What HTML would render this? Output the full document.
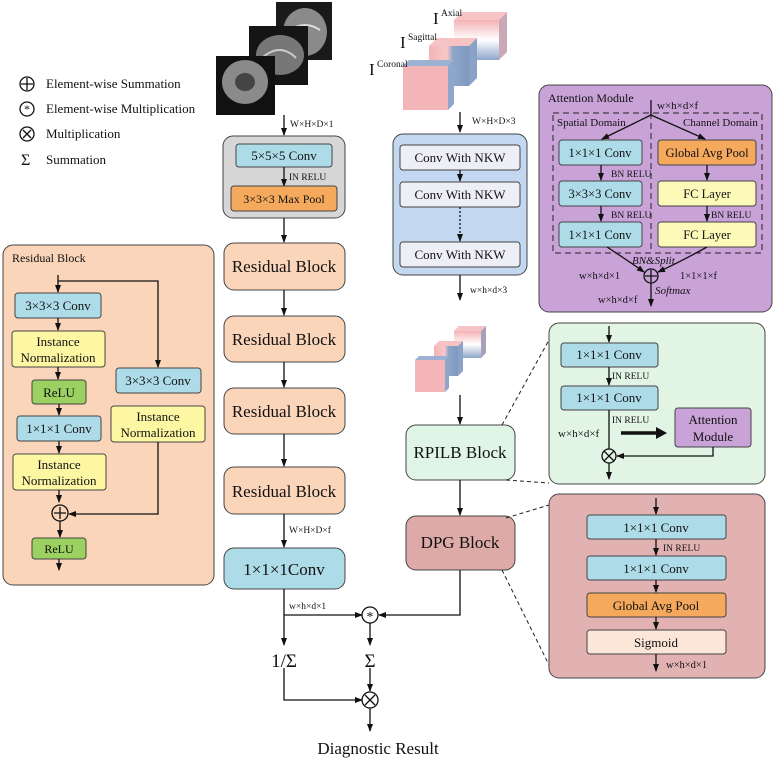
<!DOCTYPE html>
<html><head><meta charset="utf-8"><style>
body{margin:0;background:#fff}
svg{display:block;font-family:"Liberation Serif",serif}
</style></head><body>
<svg width="777" height="760" viewBox="0 0 777 760" xmlns="http://www.w3.org/2000/svg">
<defs>
<marker id="a" markerWidth="8" markerHeight="8" refX="7" refY="4" orient="auto" markerUnits="userSpaceOnUse"><path d="M0,1 L8,4 L0,7 z" fill="#111"/></marker>
<linearGradient id="pb" x1="0" x2="1"><stop offset="0" stop-color="#f4b3b6"/><stop offset="0.45" stop-color="#f7c7c9"/><stop offset="0.6" stop-color="#8da6c9"/><stop offset="1" stop-color="#7f98bf"/></linearGradient>
<linearGradient id="pv" x1="0" y1="0" x2="0" y2="1"><stop offset="0" stop-color="#f4b3b6"/><stop offset="0.5" stop-color="#fff"/><stop offset="1" stop-color="#8da6c9"/></linearGradient>
</defs>
<style>
text{font-family:"Liberation Serif",serif;fill:#111}
.s{font-size:9.5px}
.m{font-size:13px}
.l{font-size:17px}
.ln{stroke:#111;stroke-width:1.3;fill:none}
.bx{stroke:#444;stroke-width:1}
</style>

<!-- legend -->
<g class="ln"><circle cx="27" cy="84" r="7"/><path d="M21,84h12M27,78v12"/>
<circle cx="27" cy="109" r="7"/><circle cx="27" cy="134" r="7"/><path d="M23,130l8,8M31,130l-8,8"/></g>
<text x="27" y="113" text-anchor="middle" style="font-size:12px">*</text>
<text x="21" y="165" style="font-size:16px">Σ</text>
<text x="46" y="88" class="m">Element-wise Summation</text>
<text x="46" y="113" class="m">Element-wise Multiplication</text>
<text x="46" y="138" class="m">Multiplication</text>
<text x="46" y="164" class="m">Summation</text>

<!-- MRI -->
<rect x="276" y="2" width="56" height="58" fill="#1a1a1a"/><ellipse cx="305" cy="32" rx="22" ry="24" fill="#8a8a8a"/><path d="M290,30q15,-10 30,0" stroke="#ddd" stroke-width="2" fill="none"/>
<rect x="249" y="26" width="59" height="59" fill="#151515"/><ellipse cx="280" cy="55" rx="24" ry="20" fill="#777"/><path d="M262,58q18,-16 34,0" stroke="#ccc" stroke-width="2" fill="none"/>
<rect x="216" y="56" width="59" height="59" fill="#111"/><ellipse cx="245" cy="82" rx="23" ry="22" fill="#8a8a8a"/><ellipse cx="245" cy="82" rx="10" ry="9" fill="#444"/>
<line x1="284" y1="115" x2="284" y2="135" class="ln" marker-end="url(#a)"/>
<text x="290" y="127" class="s">W×H×D×1</text>

<!-- gray stem box -->
<rect x="223" y="136" width="122" height="82" rx="10" fill="#d6d6d6" class="bx" stroke-width="1.3"/>
<rect x="236" y="144" width="96" height="23" rx="3" fill="#aedbe8" class="bx"/>
<text x="284" y="160" text-anchor="middle" class="m">5×5×5 Conv</text>
<line x1="284" y1="167" x2="284" y2="186" class="ln" marker-end="url(#a)"/>
<text x="289" y="180" class="s">IN RELU</text>
<rect x="231" y="186" width="106" height="25" rx="3" fill="#f5a95c" class="bx"/>
<text x="284" y="203" text-anchor="middle" style="font-size:12px">3×3×3 Max Pool</text>
<line x1="284" y1="218" x2="284" y2="242" class="ln" marker-end="url(#a)"/>

<!-- residual column -->
<g fill="#fad5b9" class="bx" stroke-width="1.3">
<rect x="224" y="243" width="121" height="47" rx="10"/>
<rect x="224" y="316" width="121" height="46" rx="10"/>
<rect x="224" y="388" width="121" height="46" rx="10"/>
<rect x="224" y="467" width="121" height="47" rx="10"/>
</g>
<g class="l" text-anchor="middle">
<text x="284" y="272">Residual Block</text>
<text x="284" y="345">Residual Block</text>
<text x="284" y="417">Residual Block</text>
<text x="284" y="497">Residual Block</text>
</g>
<g class="ln">
<line x1="284" y1="290" x2="284" y2="315" marker-end="url(#a)"/>
<line x1="284" y1="362" x2="284" y2="387" marker-end="url(#a)"/>
<line x1="284" y1="434" x2="284" y2="466" marker-end="url(#a)"/>
<line x1="284" y1="514" x2="284" y2="547" marker-end="url(#a)"/>
</g>
<text x="289" y="533" class="s">W×H×D×f</text>
<rect x="224" y="548" width="121" height="41" rx="10" fill="#aedbe8" class="bx" stroke-width="1.3"/>
<text x="284" y="575" text-anchor="middle" class="l">1×1×1Conv</text>
<text x="289" y="609" class="s">w×h×d×1</text>

<!-- bottom combination -->
<g class="ln">
<line x1="284" y1="589" x2="284" y2="645" marker-end="url(#a)"/>
<line x1="284" y1="615" x2="362" y2="615" marker-end="url(#a)"/>
<circle cx="370" cy="615" r="8"/>
<polyline points="460,570 460,615 379,615" marker-end="url(#a)"/>
<line x1="370" y1="623" x2="370" y2="645" marker-end="url(#a)"/>
<polyline points="284,668 284,700 362,700" marker-end="url(#a)"/>
<line x1="370" y1="668" x2="370" y2="691" marker-end="url(#a)"/>
<circle cx="370" cy="700" r="8"/><path d="M365,695l10,10M375,695l-10,10"/>
<line x1="370" y1="708" x2="370" y2="731" marker-end="url(#a)"/>
</g>
<text x="370" y="621" text-anchor="middle" style="font-size:14px">*</text>
<text x="284" y="667" text-anchor="middle" style="font-size:19px">1/Σ</text>
<text x="370" y="667" text-anchor="middle" style="font-size:19px">Σ</text>
<text x="378" y="754" text-anchor="middle" style="font-size:17px">Diagnostic Result</text>

<!-- input cubes -->
<g>
<rect x="454" y="20" width="45" height="40" fill="url(#pv)"/><path d="M454,20l8,-8h45l-8,8z" fill="#f7c4c6"/><path d="M499,20l8,-8v40l-8,8z" fill="#c9a9b8"/>
<rect x="429" y="46" width="40" height="40" fill="url(#pb)"/><path d="M429,46l8,-8h40l-8,8z" fill="#f6c2c4"/><path d="M469,46l8,-8v40l-8,8z" fill="#8aa2c6"/>
<rect x="403" y="66" width="45" height="44" fill="#f4b5b8"/><path d="M403,66l6,-6h45l-6,6z" fill="#9db2d3"/><path d="M448,66l6,-6v44l-6,6z" fill="#8da6c9"/>
</g>
<text x="433" y="24" class="l">I</text><text x="441" y="16" class="s">Axial</text>
<text x="400" y="48" class="l">I</text><text x="408" y="40" class="s">Sagittal</text>
<text x="369" y="75" class="l">I</text><text x="377" y="67" class="s">Coronal</text>
<line x1="460" y1="112" x2="460" y2="132" class="ln" marker-end="url(#a)"/>
<text x="472" y="124" class="s">W×H×D×3</text>

<!-- NKW box -->
<rect x="393" y="134" width="134" height="141" rx="10" fill="#c3d8f0" class="bx" stroke-width="1.3"/>
<g fill="#eeeef6" class="bx"><rect x="400" y="145" width="120" height="25" rx="3"/><rect x="400" y="182" width="120" height="25" rx="3"/><rect x="400" y="242" width="120" height="25" rx="3"/></g>
<g class="m" text-anchor="middle"><text x="460" y="162">Conv With NKW</text><text x="460" y="199">Conv With NKW</text><text x="460" y="259">Conv With NKW</text></g>
<line x1="460" y1="170" x2="460" y2="181" class="ln" marker-end="url(#a)"/>
<line x1="460" y1="207" x2="460" y2="241" class="ln" stroke-dasharray="2,2" marker-end="url(#a)"/>
<line x1="460" y1="275" x2="460" y2="300" class="ln" marker-end="url(#a)"/>
<text x="470" y="293" class="s">w×h×d×3</text>

<!-- mid cubes -->
<rect x="454" y="331" width="27" height="27" fill="url(#pv)"/><path d="M454,331l5,-5h27l-5,5z" fill="#f7c4c6"/><path d="M481,331l5,-5v27l-5,5z" fill="#a8a0bb"/>
<rect x="434" y="346" width="24" height="30" fill="url(#pb)"/><path d="M434,346l5,-5h24l-5,5z" fill="#f6c2c4"/><path d="M458,346l5,-5v30l-5,5z" fill="#8aa2c6"/>
<rect x="415" y="360" width="30" height="32" fill="#f4b5b8"/><path d="M415,360l4,-4h30l-4,4z" fill="#9db2d3"/><path d="M445,360l4,-4v32l-4,4z" fill="#8da6c9"/>
<line x1="460" y1="395" x2="460" y2="424" class="ln" marker-end="url(#a)"/>

<!-- RPILB / DPG -->
<rect x="406" y="425" width="109" height="55" rx="10" fill="#dff5e6" class="bx" stroke-width="1.3"/>
<text x="460" y="458" text-anchor="middle" class="l">RPILB Block</text>
<line x1="460" y1="480" x2="460" y2="515" class="ln" marker-end="url(#a)"/>
<rect x="406" y="516" width="109" height="54" rx="10" fill="#deaaa8" class="bx" stroke-width="1.3"/>
<text x="460" y="548" text-anchor="middle" class="l">DPG Block</text>
<g stroke="#222" stroke-dasharray="4,3" fill="none">
<line x1="502" y1="425" x2="549" y2="340"/><line x1="506" y1="480" x2="549" y2="483"/>
<line x1="506" y1="518" x2="549" y2="505"/><line x1="502" y1="570" x2="549" y2="665"/>
</g>

<!-- residual block panel -->
<rect x="3" y="245" width="211" height="340" rx="10" fill="#fad5b9" class="bx" stroke-width="1.3"/>
<text x="12" y="262" style="font-size:12px">Residual Block</text>
<g class="bx">
<rect x="15" y="293" width="86" height="25" rx="3" fill="#aedbe8"/>
<rect x="12" y="331" width="93" height="36" rx="3" fill="#fdf7a3"/>
<rect x="32" y="380" width="54" height="24" rx="3" fill="#9ad160"/>
<rect x="17" y="416" width="84" height="25" rx="3" fill="#aedbe8"/>
<rect x="13" y="454" width="93" height="36" rx="3" fill="#fdf7a3"/>
<rect x="32" y="538" width="54" height="21" rx="3" fill="#9ad160"/>
<rect x="116" y="368" width="85" height="25" rx="3" fill="#aedbe8"/>
<rect x="111" y="406" width="94" height="36" rx="3" fill="#fdf7a3"/>
</g>
<g class="m" text-anchor="middle">
<text x="58" y="310">3×3×3 Conv</text>
<text x="58" y="346">Instance</text><text x="58" y="362">Normalization</text>
<text x="59" y="397">ReLU</text>
<text x="59" y="433">1×1×1 Conv</text>
<text x="59" y="469">Instance</text><text x="59" y="485">Normalization</text>
<text x="59" y="553" style="font-size:12px">ReLU</text>
<text x="158" y="385">3×3×3 Conv</text>
<text x="158" y="421">Instance</text><text x="158" y="437">Normalization</text>
</g>
<g class="ln">
<line x1="58" y1="275" x2="58" y2="292" marker-end="url(#a)"/>
<polyline points="58,281 158,281 158,367" marker-end="url(#a)"/>
<line x1="58" y1="318" x2="58" y2="330" marker-end="url(#a)"/>
<line x1="58" y1="367" x2="58" y2="379" marker-end="url(#a)"/>
<line x1="59" y1="404" x2="59" y2="415" marker-end="url(#a)"/>
<line x1="59" y1="441" x2="59" y2="453" marker-end="url(#a)"/>
<line x1="59" y1="490" x2="59" y2="502" marker-end="url(#a)"/>
<circle cx="60" cy="513" r="8"/><path d="M54,513h12M60,507v12"/>
<polyline points="158,442 158,514 69,514" marker-end="url(#a)"/>
<line x1="60" y1="521" x2="60" y2="537" marker-end="url(#a)"/>
<line x1="59" y1="559" x2="59" y2="570" marker-end="url(#a)"/>
</g>

<!-- attention module -->
<rect x="539" y="85" width="233" height="227" rx="10" fill="#c9a2d8" class="bx" stroke-width="1.3"/>
<text x="548" y="102" style="font-size:12px">Attention Module</text>
<rect x="553" y="113" width="209" height="140" fill="none" stroke="#222" stroke-dasharray="6,4"/>
<line x1="651" y1="113" x2="651" y2="253" stroke="#222" stroke-dasharray="6,4"/>
<text x="657" y="109" style="font-size:11px">w×h×d×f</text>
<text x="557" y="126" style="font-size:11px">Spatial Domain</text>
<text x="683" y="126" style="font-size:11px">Channel Domain</text>
<g class="bx">
<rect x="559" y="140" width="83" height="25" rx="3" fill="#aedbe8"/>
<rect x="559" y="181" width="83" height="25" rx="3" fill="#aedbe8"/>
<rect x="559" y="222" width="83" height="25" rx="3" fill="#aedbe8"/>
<rect x="658" y="140" width="98" height="25" rx="3" fill="#f5a95c"/>
<rect x="658" y="181" width="98" height="25" rx="3" fill="#fdf9b8"/>
<rect x="658" y="222" width="98" height="25" rx="3" fill="#fdf9b8"/>
</g>
<g style="font-size:12.5px" text-anchor="middle">
<text x="600" y="157">1×1×1 Conv</text><text x="600" y="198">3×3×3 Conv</text><text x="600" y="239">1×1×1 Conv</text>
<text x="707" y="157">Global Avg Pool</text><text x="707" y="198">FC Layer</text><text x="707" y="239">FC Layer</text>
</g>
<g class="ln" stroke-width="1.1">
<line x1="651" y1="100" x2="651" y2="115"/>
<line x1="651" y1="115" x2="602" y2="139" marker-end="url(#a)"/>
<line x1="651" y1="115" x2="705" y2="139" marker-end="url(#a)"/>
<line x1="601" y1="165" x2="601" y2="180" marker-end="url(#a)"/>
<line x1="601" y1="206" x2="601" y2="221" marker-end="url(#a)"/>
<line x1="707" y1="165" x2="707" y2="180" marker-end="url(#a)"/>
<line x1="707" y1="206" x2="707" y2="221" marker-end="url(#a)"/>
<path d="M607,247 Q630,262 644,272" marker-end="url(#a)"/>
<path d="M707,247 Q680,262 658,272" marker-end="url(#a)"/>
<circle cx="651" cy="276" r="7"/><path d="M645,276h12M651,270v12"/>
<line x1="651" y1="283" x2="651" y2="306" marker-end="url(#a)"/>
</g>
<g class="s"><text x="611" y="177">BN RELU</text><text x="611" y="218">BN RELU</text><text x="711" y="218">BN RELU</text></g>
<text x="632" y="264" style="font-size:11px;font-style:italic">BN&amp;Split</text>
<text x="579" y="279" style="font-size:10.5px">w×h×d×1</text>
<text x="680" y="279" style="font-size:10.5px">1×1×1×f</text>
<text x="655" y="294" style="font-size:11px;font-style:italic">Softmax</text>
<text x="598" y="303" style="font-size:10.5px">w×h×d×f</text>

<!-- green box -->
<rect x="549" y="323" width="216" height="161" rx="10" fill="#e2f5e5" class="bx" stroke-width="1.3"/>
<g class="bx"><rect x="561" y="343" width="97" height="24" rx="3" fill="#aedbe8"/><rect x="561" y="386" width="97" height="24" rx="3" fill="#aedbe8"/>
<rect x="675" y="408" width="76" height="39" rx="3" fill="#c9a2d8"/></g>
<g style="font-size:13px" text-anchor="middle"><text x="609" y="359">1×1×1 Conv</text><text x="609" y="402">1×1×1 Conv</text>
<text x="713" y="424">Attention</text><text x="713" y="441">Module</text></g>
<g class="ln" stroke-width="1.1">
<line x1="609" y1="326" x2="609" y2="342" marker-end="url(#a)"/>
<line x1="609" y1="367" x2="609" y2="385" marker-end="url(#a)"/>
<line x1="609" y1="410" x2="609" y2="449"/>
<circle cx="609" cy="456" r="7"/><path d="M604,451l10,10M614,451l-10,10"/>
<polyline points="713,447 713,456 617,456" marker-end="url(#a)"/>
<line x1="609" y1="463" x2="609" y2="479" marker-end="url(#a)"/>
</g>
<path d="M621,433h40" stroke="#111" stroke-width="3.5"/><path d="M656,427l11,6l-11,6z" fill="#111"/>
<g class="s"><text x="612" y="379">IN RELU</text><text x="612" y="423">IN RELU</text></g>
<text x="558" y="437" style="font-size:11px">w×h×d×f</text>

<!-- pink box -->
<rect x="549" y="494" width="216" height="184" rx="10" fill="#e2b2b3" class="bx" stroke-width="1.3"/>
<g class="bx"><rect x="587" y="515" width="139" height="24" rx="3" fill="#aedbe8"/><rect x="587" y="556" width="139" height="24" rx="3" fill="#aedbe8"/>
<rect x="587" y="593" width="139" height="24" rx="3" fill="#f5a95c"/><rect x="587" y="630" width="139" height="24" rx="3" fill="#fbe6d8"/></g>
<g style="font-size:13px" text-anchor="middle"><text x="656" y="532">1×1×1 Conv</text><text x="656" y="573">1×1×1 Conv</text><text x="656" y="610">Global Avg Pool</text><text x="656" y="647">Sigmoid</text></g>
<g class="ln" stroke-width="1.1">
<line x1="656" y1="498" x2="656" y2="514" marker-end="url(#a)"/>
<line x1="656" y1="539" x2="656" y2="555" marker-end="url(#a)"/>
<line x1="656" y1="580" x2="656" y2="592" marker-end="url(#a)"/>
<line x1="656" y1="617" x2="656" y2="629" marker-end="url(#a)"/>
<line x1="656" y1="654" x2="656" y2="671" marker-end="url(#a)"/>
</g>
<text x="663" y="551" class="s">IN RELU</text>
<text x="666" y="668" style="font-size:10.5px">w×h×d×1</text>
</svg>
</body></html>
